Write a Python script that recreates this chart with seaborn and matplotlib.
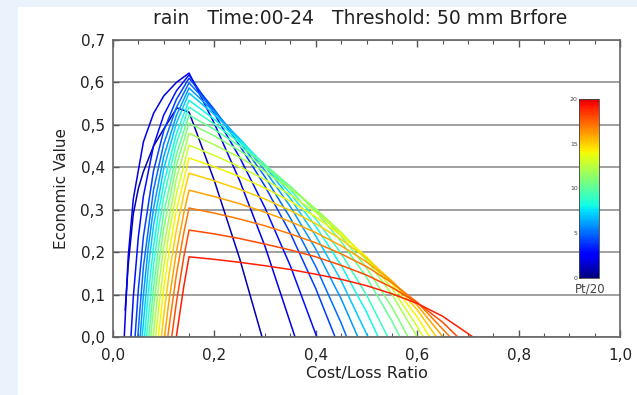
import pandas as pd
import numpy as np
import matplotlib
matplotlib.use('Agg')
import matplotlib.pyplot as plt
import seaborn as sns
from matplotlib.patches import Rectangle
from matplotlib.colors import ListedColormap
from matplotlib.ticker import MultipleLocator, FixedLocator, FuncFormatter

# Economic value curves, one per probability threshold Pt (Pt/20)
thresholds = list(range(1, 20))

alpha_pt01 = [0.024, 0.03, 0.04, 0.05, 0.06, 0.08, 0.10, 0.126, 0.15, 0.20, 0.25, 0.294]
value_pt01 = [0.063, 0.17, 0.29, 0.35, 0.39, 0.45, 0.49, 0.54, 0.53, 0.368, 0.184, 0.0]
alpha_pt02 = [0.0222, 0.03, 0.04, 0.06, 0.08, 0.10, 0.125, 0.15, 0.20, 0.25, 0.30, 0.359]
value_pt02 = [0.0, 0.190, 0.325, 0.460, 0.527, 0.568, 0.600, 0.622, 0.503, 0.368, 0.213, 0.0]
alpha_pt03 = [0.0354, 0.04, 0.05, 0.06, 0.08, 0.10, 0.125, 0.15, 0.20, 0.25, 0.30, 0.35, 0.402]
value_pt03 = [0.0, 0.093, 0.236, 0.332, 0.451, 0.523, 0.580, 0.618, 0.526, 0.423, 0.304, 0.167, 0.0]
alpha_pt04 = [0.0435, 0.05, 0.06, 0.08, 0.10, 0.125, 0.15, 0.20, 0.25, 0.30, 0.35, 0.40, 0.438]
value_pt04 = [0.0, 0.112, 0.237, 0.392, 0.486, 0.560, 0.610, 0.536, 0.451, 0.355, 0.244, 0.114, 0.0]
alpha_pt05 = [0.0488, 0.06, 0.08, 0.10, 0.125, 0.15, 0.20, 0.25, 0.30, 0.35, 0.40, 0.45, 0.461]
value_pt05 = [0.0, 0.166, 0.347, 0.455, 0.541, 0.599, 0.534, 0.461, 0.377, 0.280, 0.166, 0.033, 0.0]
alpha_pt06 = [0.0535, 0.06, 0.07, 0.08, 0.10, 0.125, 0.15, 0.20, 0.25, 0.30, 0.35, 0.40, 0.45, 0.483]
value_pt06 = [0.0, 0.099, 0.216, 0.303, 0.425, 0.522, 0.587, 0.530, 0.466, 0.392, 0.307, 0.207, 0.090, 0.0]
alpha_pt07 = [0.0575, 0.07, 0.08, 0.10, 0.125, 0.15, 0.20, 0.25, 0.30, 0.35, 0.40, 0.45, 0.503]
value_pt07 = [0.0, 0.167, 0.263, 0.396, 0.504, 0.575, 0.524, 0.467, 0.402, 0.326, 0.238, 0.133, 0.0]
alpha_pt08 = [0.0621, 0.07, 0.08, 0.09, 0.10, 0.125, 0.15, 0.20, 0.25, 0.30, 0.35, 0.40, 0.45, 0.50, 0.523]
value_pt08 = [0.0, 0.108, 0.213, 0.295, 0.361, 0.479, 0.558, 0.513, 0.463, 0.405, 0.338, 0.261, 0.169, 0.059, 0.0]
alpha_pt09 = [0.0661, 0.08, 0.09, 0.10, 0.125, 0.15, 0.20, 0.25, 0.30, 0.35, 0.40, 0.45, 0.50, 0.542]
value_pt09 = [0.0, 0.168, 0.257, 0.329, 0.457, 0.542, 0.502, 0.458, 0.406, 0.347, 0.278, 0.197, 0.099, 0.0]
alpha_pt10 = [0.0706, 0.08, 0.09, 0.10, 0.125, 0.15, 0.20, 0.25, 0.30, 0.35, 0.40, 0.45, 0.50, 0.55, 0.566]
value_pt10 = [0.0, 0.116, 0.213, 0.291, 0.430, 0.523, 0.489, 0.450, 0.406, 0.355, 0.296, 0.225, 0.141, 0.038, 0.0]
alpha_pt11 = [0.0745, 0.08, 0.09, 0.10, 0.125, 0.15, 0.20, 0.25, 0.30, 0.35, 0.40, 0.45, 0.50, 0.55, 0.582]
value_pt11 = [0.0, 0.069, 0.172, 0.255, 0.405, 0.504, 0.474, 0.439, 0.400, 0.354, 0.301, 0.238, 0.163, 0.071, 0.0]
alpha_pt12 = [0.0792, 0.09, 0.10, 0.125, 0.15, 0.20, 0.25, 0.30, 0.35, 0.40, 0.45, 0.50, 0.55, 0.60]
value_pt12 = [0.0, 0.122, 0.212, 0.373, 0.480, 0.453, 0.423, 0.389, 0.349, 0.302, 0.247, 0.181, 0.101, 0.0]
alpha_pt13 = [0.0841, 0.09, 0.10, 0.11, 0.125, 0.15, 0.20, 0.25, 0.30, 0.35, 0.40, 0.45, 0.50, 0.55, 0.60, 0.612]
value_pt13 = [0.0, 0.067, 0.164, 0.242, 0.337, 0.452, 0.428, 0.401, 0.371, 0.335, 0.294, 0.245, 0.186, 0.115, 0.025, 0.0]
alpha_pt14 = [0.0893, 0.10, 0.11, 0.125, 0.15, 0.20, 0.25, 0.30, 0.35, 0.40, 0.45, 0.50, 0.55, 0.60, 0.625]
value_pt14 = [0.0, 0.112, 0.196, 0.298, 0.422, 0.401, 0.378, 0.351, 0.320, 0.283, 0.240, 0.189, 0.126, 0.047, 0.0]
alpha_pt15 = [0.0953, 0.10, 0.11, 0.125, 0.14, 0.15, 0.20, 0.25, 0.30, 0.35, 0.40, 0.45, 0.50, 0.55, 0.60, 0.638]
value_pt15 = [0.0, 0.050, 0.142, 0.252, 0.338, 0.386, 0.368, 0.348, 0.325, 0.298, 0.267, 0.230, 0.186, 0.132, 0.064, 0.0]
alpha_pt16 = [0.1016, 0.11, 0.125, 0.14, 0.15, 0.20, 0.25, 0.30, 0.35, 0.40, 0.45, 0.50, 0.55, 0.60, 0.651]
value_pt16 = [0.0, 0.082, 0.201, 0.294, 0.346, 0.331, 0.314, 0.294, 0.272, 0.246, 0.215, 0.177, 0.132, 0.075, 0.0]
alpha_pt17 = [0.1081, 0.11, 0.125, 0.14, 0.15, 0.20, 0.25, 0.30, 0.35, 0.40, 0.45, 0.50, 0.55, 0.60, 0.665]
value_pt17 = [0.0, 0.019, 0.147, 0.248, 0.304, 0.292, 0.278, 0.262, 0.243, 0.222, 0.196, 0.166, 0.128, 0.082, 0.0]
alpha_pt18 = [0.1158, 0.125, 0.14, 0.15, 0.20, 0.25, 0.30, 0.35, 0.40, 0.45, 0.50, 0.55, 0.60, 0.65, 0.68]
value_pt18 = [0.0, 0.081, 0.191, 0.252, 0.243, 0.232, 0.219, 0.205, 0.189, 0.169, 0.146, 0.117, 0.081, 0.035, 0.0]
alpha_pt19 = [0.1248, 0.14, 0.15, 0.20, 0.25, 0.30, 0.35, 0.40, 0.45, 0.50, 0.55, 0.60, 0.65, 0.71]
value_pt19 = [0.0, 0.122, 0.189, 0.183, 0.176, 0.168, 0.159, 0.148, 0.136, 0.121, 0.102, 0.079, 0.049, 0.0]

alphas = [alpha_pt01, alpha_pt02, alpha_pt03, alpha_pt04, alpha_pt05, alpha_pt06, alpha_pt07,
          alpha_pt08, alpha_pt09, alpha_pt10, alpha_pt11, alpha_pt12, alpha_pt13, alpha_pt14,
          alpha_pt15, alpha_pt16, alpha_pt17, alpha_pt18, alpha_pt19]
values = [value_pt01, value_pt02, value_pt03, value_pt04, value_pt05, value_pt06, value_pt07,
          value_pt08, value_pt09, value_pt10, value_pt11, value_pt12, value_pt13, value_pt14,
          value_pt15, value_pt16, value_pt17, value_pt18, value_pt19]

x_ticks = [0.0, 0.2, 0.4, 0.6, 0.8, 1.0]
y_ticks = [0.0, 0.1, 0.2, 0.3, 0.4, 0.5, 0.6, 0.7]
cbar_ticks = [0, 5, 10, 15, 20]

rows = []
for pt, a, v in zip(thresholds, alphas, values):
    for xx, yy in zip(a, v):
        rows.append({'alpha': xx, 'value': yy, 'pt': pt})
df = pd.DataFrame(rows)

sns.set_theme(style='white')
plt.rcParams['font.family'] = ['DejaVu Sans']

W, H = 637, 395
fig = plt.figure(figsize=(W / 100, H / 100), dpi=100)
fig.patch.set_facecolor('#eaf3fc')
fig.patches.append(Rectangle((18 / W, 0), 1 - 18 / W, 1 - 7 / H, transform=fig.transFigure,
                             facecolor='white', edgecolor='none', zorder=-10))

ax = fig.add_axes([113 / W, 1 - 337 / H, (620 - 113) / W, (337 - 40) / H])
ax.set_facecolor('white')

# IDL-like rainbow: jet without the dark red end
cmap = ListedColormap(plt.get_cmap('jet')(np.linspace(0.0, 0.92, 256)))
norm = plt.Normalize(0, 20)

ax.yaxis.grid(True, color='#858585', lw=1.1)
ax.set_axisbelow(True)

sns.lineplot(data=df, x='alpha', y='value', hue='pt', palette=cmap, hue_norm=norm,
             units='pt', estimator=None, sort=False, legend=False, lw=1.1, ax=ax)

ax.set_xlim(0, 1)
ax.set_ylim(0, 0.7)
comma = FuncFormatter(lambda v, p: f'{v:.1f}'.replace('.', ','))
ax.xaxis.set_major_locator(FixedLocator(x_ticks))
ax.xaxis.set_minor_locator(MultipleLocator(0.05))
ax.yaxis.set_major_locator(FixedLocator(y_ticks))
ax.xaxis.set_major_formatter(comma)
ax.yaxis.set_major_formatter(comma)
ax.tick_params(axis='x', which='major', direction='in', length=5, width=1, color='#555555',
               top=True, bottom=True, labelsize=11, pad=8, labelcolor='#222222')
ax.tick_params(axis='x', which='minor', direction='in', length=3, width=0.8, color='#555555',
               top=True, bottom=True)
ax.tick_params(axis='y', which='major', direction='in', length=4, width=1, color='#555555',
               left=True, right=False, labelsize=11, pad=6, labelcolor='#222222')
for s in ax.spines.values():
    s.set_color('#666666')
    s.set_linewidth(1.2)

ax.set_xlabel('Cost/Loss Ratio', fontsize=11.5, color='#222222', labelpad=2)
ax.set_ylabel('Economic Value', fontsize=11, color='#222222', labelpad=8)
fig.text(0.565, 1 - 18 / H, 'rain   Time:00-24   Threshold: 50 mm Brfore',
         ha='center', va='center', fontsize=13.5, color='#222222')

# colorbar for Pt/20
cax = fig.add_axes([579 / W, 1 - 278 / H, 20 / W, 179 / H])
sm = plt.cm.ScalarMappable(cmap=cmap, norm=norm)
cb = fig.colorbar(sm, cax=cax, ticks=cbar_ticks)
cb.outline.set_edgecolor('#444444')
cb.outline.set_linewidth(0.6)
cax.yaxis.set_ticks_position('left')
cax.tick_params(direction='in', length=2, width=0.5, labelsize=4.5, pad=1,
                colors='#444444')
fig.text(590 / W, 1 - 289 / H, 'Pt/20', ha='center', va='center', fontsize=8.5, color='#444444')

fig.savefig('out.png', dpi=100, facecolor=fig.get_facecolor())
